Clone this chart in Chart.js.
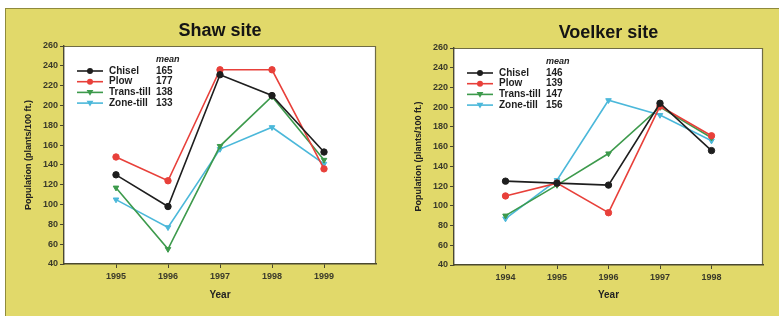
<!DOCTYPE html>
<html>
<head>
<meta charset="utf-8">
<script src="https://cdn.jsdelivr.net/npm/chart.js@4/dist/chart.umd.min.js"></script>
<style>
  html, body { margin: 0; padding: 0; background: #ffffff; }
  #wrap { position: relative; width: 779px; height: 316px; overflow: hidden; background: #ffffff; }
  #panel { position: absolute; left: 5px; top: 8px; width: 774px; height: 308px;
           background: #e1d96a; border-left: 1px solid #8f8a3c; border-top: 1px solid #8f8a3c; box-sizing: border-box; }
  .cv { position: absolute; top: 0; }
</style>
</head>
<body>
<div id="wrap">
  <div id="panel"></div>
  <div class="cv" style="left:0px;width:390px;height:316px;"><canvas id="c1" width="390" height="316"></canvas></div>
  <div class="cv" style="left:390px;width:389px;height:316px;"><canvas id="c2" width="389" height="316"></canvas></div>
</div>
<script>
// ---- data ----
const seriesNames = ['Chisel', 'Plow', 'Trans-till', 'Zone-till'];
const seriesColors = ['#1e1e1e', '#e8403a', '#3d9a4c', '#4bb8da'];
const seriesPoints = ['circle', 'circle', 'triangle', 'triangle'];

const shawYears   = [1995, 1996, 1997, 1998, 1999];
const shawChisel  = [130, 98, 231, 210, 153];
const shawPlow    = [148, 124, 236, 236, 136];
const shawTrans   = [117, 55, 159, 209, 145];
const shawZone    = [105, 77, 156, 178, 141];
const shawMeans   = [165, 177, 138, 133];

const voelkerYears  = [1994, 1995, 1996, 1997, 1998];
const voelkerChisel = [125, 123, 121, 204, 156];
const voelkerPlow   = [110, 123, 93, 201, 171];
const voelkerTrans  = [90, 121, 153, 200, 169];
const voelkerZone   = [87, 126, 207, 192, 166];
const voelkerMeans  = [146, 139, 147, 156];

const yTickValues = [40, 60, 80, 100, 120, 140, 160, 180, 200, 220, 240, 260];

const FONT = "'Liberation Sans', Arial, sans-serif";
Chart.defaults.font.family = FONT;

function makeDatasets(years, seriesArrays) {
  return seriesArrays.map((vals, i) => ({
    label: seriesNames[i],
    data: years.map((yr, j) => ({ x: yr, y: vals[j] })),
    borderColor: seriesColors[i],
    backgroundColor: seriesColors[i],
    borderWidth: 1.6,
    pointStyle: seriesPoints[i],
    pointRotation: seriesPoints[i] === 'triangle' ? 180 : 0,
    pointRadius: 3.2,
    pointBorderWidth: 1,
    tension: 0,
    fill: false
  }));
}

const framePlugin = {
  id: 'frame',
  beforeDraw(chart) {
    const a = chart.chartArea, c = chart.ctx;
    c.save();
    c.fillStyle = '#ffffff';
    c.fillRect(a.left, a.top, a.right - a.left, a.bottom - a.top);
    c.strokeStyle = '#6f6c45';
    c.lineWidth = 1.2;
    c.beginPath();
    c.moveTo(a.left, a.top + 0.5);
    c.lineTo(a.right - 0.5, a.top + 0.5);
    c.lineTo(a.right - 0.5, a.bottom);
    c.stroke();
    c.restore();
  }
};

const extrasPlugin = {
  id: 'extras',
  afterDraw(chart, args, opts) {
    const a = chart.chartArea, c = chart.ctx;
    c.save();
    // chart title
    c.fillStyle = '#141414';
    c.font = "bold 18px " + FONT;
    c.textAlign = 'center';
    c.textBaseline = 'middle';
    c.fillText(opts.title, (a.left + a.right) / 2, opts.titleY);
    // legend
    const lx = a.left + 13, lw = 26;
    c.font = "italic bold 9px " + FONT;
    c.textAlign = 'left';
    c.fillStyle = '#222';
    c.fillText('mean', a.left + 92, a.top + 14);
    chart.data.datasets.forEach((ds, i) => {
      const y = a.top + 25 + i * 10.7;
      c.strokeStyle = ds.borderColor;
      c.lineWidth = 1.6;
      c.beginPath(); c.moveTo(lx, y); c.lineTo(lx + lw, y); c.stroke();
      c.fillStyle = ds.backgroundColor;
      const cx = lx + lw / 2;
      if (ds.pointStyle === 'circle') {
        c.beginPath(); c.arc(cx, y, 3, 0, Math.PI * 2); c.fill();
      } else {
        c.beginPath(); c.moveTo(cx - 3.4, y - 2.4); c.lineTo(cx + 3.4, y - 2.4); c.lineTo(cx, y + 3.4); c.closePath(); c.fill();
      }
      c.fillStyle = '#1e1e1e';
      c.font = "bold 10px " + FONT;
      c.textBaseline = 'middle';
      c.fillText(ds.label, a.left + 45, y);
      c.fillText(String(opts.means[i]), a.left + 92, y);
    });
    c.restore();
  }
};

function makeChart(id, years, seriesArrays, means, title, titleY, geo) {
  const xmin = years[0] - 1, xmax = years[years.length - 1] + 1;
  return new Chart(document.getElementById(id), {
    type: 'line',
    data: { datasets: makeDatasets(years, seriesArrays) },
    plugins: [framePlugin, extrasPlugin],
    options: {
      responsive: false,
      animation: false,
      devicePixelRatio: 1,
      layout: { padding: { left: 0, right: geo.right, top: geo.top, bottom: 0 } },
      plugins: {
        legend: { display: false },
        title: { display: false },
        tooltip: { enabled: false },
        extras: { title: title, titleY: titleY, means: means }
      },
      scales: {
        x: {
          type: 'linear',
          min: xmin, max: xmax,
          afterBuildTicks(scale) { scale.ticks = years.map(v => ({ value: v })); },
          afterFit(scale) { scale.height = geo.xh; },
          grid: { display: true, drawOnChartArea: false, drawTicks: true, tickLength: 4, color: '#4a4830', lineWidth: 1 },
          border: { display: true, color: '#4a4830', width: 1.4 },
          ticks: { color: '#3a3a2a', font: { size: 9, weight: 'bold' }, padding: 3, maxRotation: 0, autoSkip: false,
                   callback: v => String(v) },
          title: { display: true, text: 'Year', color: '#222', font: { size: 10, weight: 'bold' }, padding: { top: 0, bottom: 15 } }
        },
        y: {
          min: 40, max: 260,
          afterBuildTicks(scale) { scale.ticks = yTickValues.map(v => ({ value: v })); },
          afterFit(scale) { scale.width = 64; },
          grid: { display: true, drawOnChartArea: false, drawTicks: true, tickLength: 4, color: '#4a4830', lineWidth: 1 },
          border: { display: true, color: '#4a4830', width: 1.4 },
          ticks: { color: '#3a3a2a', font: { size: 9, weight: 'bold' }, padding: 2 },
          title: { display: true, text: 'Population (plants/100 ft.)', color: '#222', font: { size: 9, weight: 'bold' }, padding: { top: 23, bottom: 0 } }
        }
      }
    }
  });
}

makeChart('c1', shawYears, [shawChisel, shawPlow, shawTrans, shawZone], shawMeans, 'Shaw site', 31,
          { right: 14, top: 46, xh: 52 });
makeChart('c2', voelkerYears, [voelkerChisel, voelkerPlow, voelkerTrans, voelkerZone], voelkerMeans, 'Voelker site', 33,
          { right: 16, top: 48, xh: 51 });
</script>
</body>
</html>
